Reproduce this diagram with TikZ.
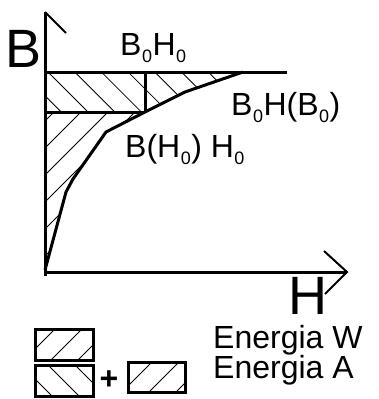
\documentclass[tikz,border=0pt]{standalone}
\usepackage{fontspec}
\setmainfont{Liberation Sans}
\newcommand{\lo}[1]{\kern0.5pt\raisebox{-7pt}{\fontsize{18}{18}\selectfont #1}\kern0.5pt}

\begin{document}
\begin{tikzpicture}[x=1pt, y=-1pt, every node/.style={inner sep=0pt},
	lbl/.style={font=\fontsize{32}{32}\selectfont, anchor=base west},
	axlbl/.style={font=\fontsize{54}{54}\selectfont},
	hatch/.style={line width=0.8pt}, heavy/.style={line width=3pt}, tip/.style={line width=2pt}]
	\useasboundingbox (0,0) rectangle (378,399);
	% curve points
	\coordinate (O) at (45,272);
	\coordinate (c0) at (45,270);
	\coordinate (c1) at (66,192);
	\coordinate (c2) at (73,179);
	\coordinate (c3) at (106,132);
	\coordinate (c4) at (145,112);
	\coordinate (c5) at (185,92);
	\coordinate (c6) at (243,72);
	% hatched areas
	\begin{scope}
		\clip (45,72) -- (c6) -- (c5) -- (c4) -- (45,112) -- cycle;
		\foreach \k in {-2,...,8} \draw[hatch] (48+26.7*\k,72) -- ++(60,60);
	\end{scope}
	\begin{scope}
		\clip (45,112) -- (c4) -- (c3) -- (c2) -- (c1) -- (c0) -- cycle;
		\foreach \k in {-1,...,6} \draw[hatch] (45,121+27*\k) -- ++(150,-150);
	\end{scope}
	% axes
	\draw[heavy] (45,276) -- (45,12);
	\draw[tip] (45,12) -- (66,33);
	\draw[heavy] (O) -- (347,272);
	\draw[tip] (324,251) -- (347,272) -- (325,294);
	\node[axlbl] (lB) at (23.5,49) {B};
	\node[axlbl] (lH) at (307.5,296) {H};
	% levels and curve
	\draw[heavy] (45,72) -- (287,72);
	\draw[heavy] (45,112) -- (c4);
	\draw[heavy] (145,72) -- (c4);
	\draw[heavy, line join=round] (c0) -- (c1) -- (c2) -- (c3) -- (c4) -- (c5) -- (c6);
	\node[lbl] (top) at (120,55) {B\lo{0}H\lo{0}};
	\node[lbl] (sat) at (231,115) {B\lo{0}H(B\lo{0})};
	\node[lbl] (mid) at (125,157) {B(H\lo{0}) H\lo{0}};
	% legend
	\begin{scope}
		\clip (35,329) rectangle (93,360);
		\foreach \k in {0,...,4} \draw[hatch] (24+27*\k,360) -- ++(40,-40);
	\end{scope}
	\begin{scope}
		\clip (35,365) rectangle (93,396);
		\foreach \k in {-1,...,3} \draw[hatch] (48+27*\k,365) -- ++(40,40);
	\end{scope}
	\begin{scope}
		\clip (128,362) rectangle (185,392);
		\foreach \k in {-1,...,3} \draw[hatch] (122+27*\k,392) -- ++(40,-40);
	\end{scope}
	\draw[heavy] (35,329) rectangle (93,360);
	\draw[heavy] (35,365) rectangle (93,396);
	\draw[heavy] (128,362) rectangle (185,392);
	\node[font=\fontsize{32}{32}\selectfont\bfseries] (plus) at (109,380) {+};
	\node[lbl] (enW) at (213,348) {Energia W};
	\node[lbl] (enA) at (213,378) {Energia A};
\end{tikzpicture}
\end{document}
